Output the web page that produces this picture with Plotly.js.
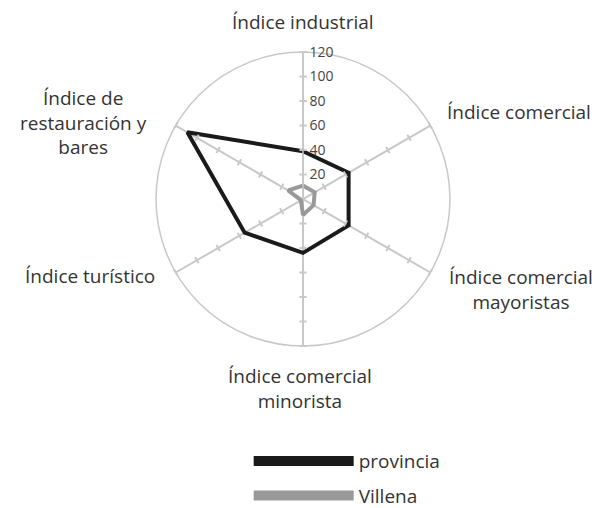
<!DOCTYPE html>
<html>
<head>
<meta charset="utf-8">
<script src="https://cdn.plot.ly/plotly-3.0.1.min.js"></script>
<style>body{margin:0;background:#fff}</style>
</head>
<body>
<div id="chart" style="width:611px;height:508px"></div>
<script>
// Axes of the radar, clockwise from the top
var indices = ["Índice industrial", "Índice comercial", "Índice comercial<br>mayoristas",
  "Índice comercial<br>minorista", "Índice turístico", "Índice de<br>restauración y<br>bares"];
var provincia = [39, 43, 43, 44, 55, 109];
var villena = [11, 11, 10, 13, 2, 14];
var radialTicks = [20, 40, 60, 80, 100, 120];

var gridColor = "#c8c8c8";
var W = 611, H = 508;
var dom = {x: [0.2553, 0.7365], y: [0.3189, 0.8976]};

// where each axis label sits (pixels from top-left) and how it is anchored
var labelPos = [
  {x: 303, y: 22, xa: "center"},
  {x: 445, y: 112, xa: "left"},
  {x: 521, y: 289, xa: "center"},
  {x: 300, y: 388, xa: "center"},
  {x: 157, y: 276, xa: "right"},
  {x: 83, y: 122, xa: "center"}
];

// close the polygons
function closed(arr) { return arr.concat([arr[0]]); }

var traces = [
  {type: "scatterpolar", r: closed(provincia), theta: closed(indices), mode: "lines",
   line: {color: "#1a1a1a", width: 4}, showlegend: false, hoverinfo: "skip"},
  {type: "scatterpolar", r: closed(villena), theta: closed(indices), mode: "lines",
   line: {color: "#999999", width: 4}, showlegend: false, hoverinfo: "skip"},
  // legend entries
  {type: "scatterpolar", r: [null], theta: [indices[0]], mode: "lines", name: "provincia",
   line: {color: "#1a1a1a", width: 14}, legendgroup: "a"},
  {type: "scatterpolar", r: [null], theta: [indices[0]], mode: "lines", name: "Villena",
   line: {color: "#999999", width: 14}, legendgroup: "b"}
];

var layout = {
  width: W, height: H,
  margin: {l: 0, r: 0, t: 0, b: 0, autoexpand: false},
  paper_bgcolor: "#fff",
  font: {family: "'Open Sans', sans-serif", color: "#333", size: 19},
  showlegend: true,
  legend: {x: 0.407, xanchor: "left", y: 0.058, yanchor: "middle", itemwidth: 100,
    traceorder: "grouped", tracegroupgap: 7, font: {size: 19, color: "#333"}},
  annotations: indices.map(function (txt, i) {
    var p = labelPos[i];
    return {text: txt, xref: "paper", yref: "paper", x: p.x / W, y: 1 - p.y / H,
      xanchor: p.xa, yanchor: "middle", align: "center", showarrow: false,
      font: {size: 19, color: "#333"}};
  }),
  polar: {
    domain: dom,
    bgcolor: "rgba(0,0,0,0)",
    radialaxis: {range: [0, 120], tickvals: radialTicks, angle: 90, side: "clockwise",
      showgrid: false, showline: true, linecolor: gridColor, linewidth: 1.5,
      ticks: "outside", ticklen: 3, tickcolor: gridColor, tickwidth: 1.5,
      tickprefix: " ",
      tickfont: {size: 14, color: "#444"}, tickangle: 90},
    angularaxis: {direction: "clockwise", rotation: 90, categoryarray: indices,
      showline: true, linecolor: gridColor, linewidth: 1.5,
      showgrid: true, gridcolor: gridColor, gridwidth: 1.5,
      ticks: "", showticklabels: false}
  }
};

// small tick marks crossing every spoke (one overlay subplot per spoke side)
var spokeAngles = [90, 30, -30, -90, -150, 150];
var n = 2;
spokeAngles.forEach(function (a) {
  ["inside", "outside"].forEach(function (side) {
    if (a === 90 && side === "outside") return; // main axis has these
    var name = "polar" + n;
    layout[name] = {
      domain: dom, bgcolor: "rgba(0,0,0,0)",
      radialaxis: {range: [0, 120], tickvals: radialTicks, angle: a, side: "clockwise",
        showgrid: false, showline: false, showticklabels: false,
        ticks: side, ticklen: 3, tickcolor: gridColor, tickwidth: 1.5},
      angularaxis: {visible: false, direction: "clockwise", rotation: 90, categoryarray: indices}
    };
    traces.push({type: "scatterpolar", subplot: name, r: [null], theta: [indices[0]],
      mode: "lines", showlegend: false, hoverinfo: "skip"});
    n++;
  });
});

Plotly.newPlot("chart", traces, layout, {displayModeBar: false});
</script>
</body>
</html>
